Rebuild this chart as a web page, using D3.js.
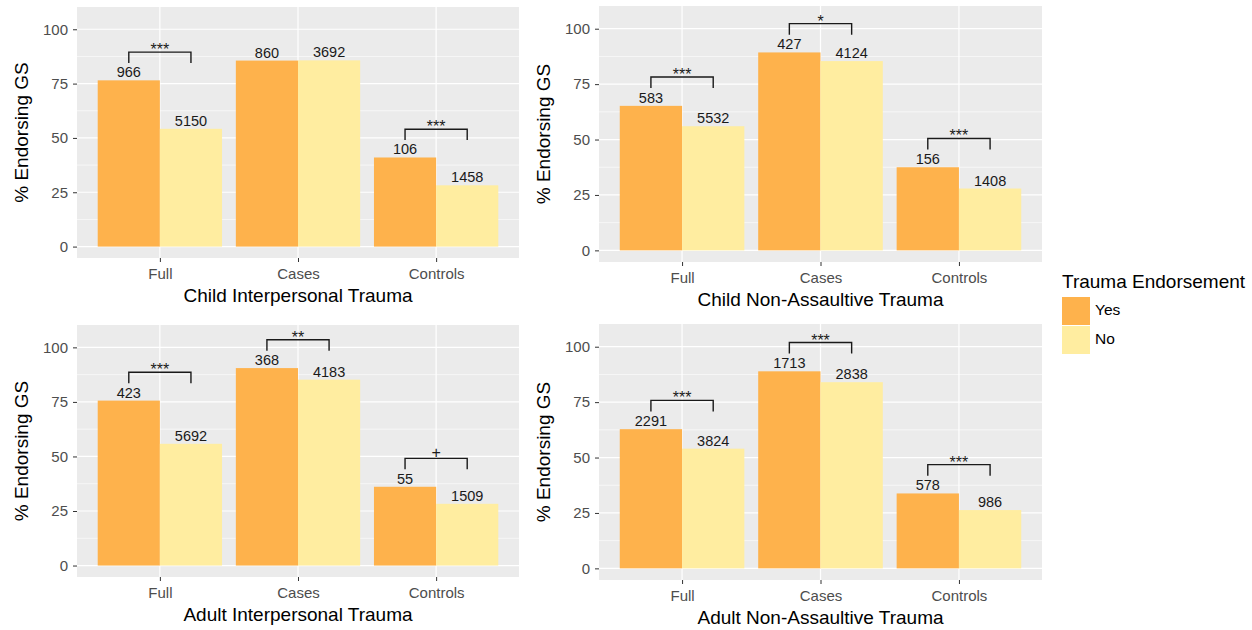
<!DOCTYPE html>
<html>
<head>
<meta charset="utf-8">
<script src="https://cdn.jsdelivr.net/npm/d3@7"></script>
<style>
	body { margin: 0; background: #fff; }
	svg { font-family: "Liberation Sans", Arial, Helvetica, sans-serif; }
	.axis .domain { display: none; }
	.axis line { stroke: #333; }
	.axis text { fill: #4d4d4d; font-size: 15px; }
</style>
</head>
<body>
<svg id="chart"></svg>
<script>
const translate = (x, y) => `translate(${x}, ${y})`;

// Chart data
const groups = ['Full', 'Cases', 'Controls'];
const endorsement = ['Yes', 'No'];
const panelTitles = [
	'Child Interpersonal Trauma',
	'Child Non-Assaultive Trauma',
	'Adult Interpersonal Trauma',
	'Adult Non-Assaultive Trauma',
];
const yesPercent = [
	[76.5, 85.6, 41.0],
	[65.2, 89.3, 37.5],
	[75.6, 90.5, 36.1],
	[62.8, 88.9, 33.8],
];
const noPercent = [
	[54.2, 85.7, 28.2],
	[56.0, 85.4, 27.9],
	[55.8, 85.2, 28.3],
	[54.0, 84.0, 26.3],
];
const yesCounts = [
	[966, 860, 106],
	[583, 427, 156],
	[423, 368, 55],
	[2291, 1713, 578],
];
const noCounts = [
	[5150, 3692, 1458],
	[5532, 4124, 1408],
	[5692, 4183, 1509],
	[3824, 2838, 986],
];
const signifLabels = [
	['***', '', '***'],
	['***', '*', '***'],
	['***', '**', '+'],
	['***', '***', '***'],
];
const yTicks = [0, 25, 50, 75, 100];
const yMinorTicks = [12.5, 37.5, 62.5, 87.5];

// Layout
const WIDTH = 1252;
const HEIGHT = 630;
const Y_DOMAIN = [-5.25, 110.25];
const PANELS = [
	{ left: 77, right: 519, top: 7, bottom: 258 },
	{ left: 599, right: 1042, top: 6, bottom: 262 },
	{ left: 77, right: 519, top: 325, bottom: 577 },
	{ left: 599, right: 1042, top: 324, bottom: 580 },
];
const COLORS = { Yes: '#FEB24C', No: '#FFEDA0' };
const PANEL_BG = '#EBEBEB';
const BRACKET_GAP = 13;
const BRACKET_DROP = 5;

const svg = d3.select('#chart')
	.attr('width', WIDTH)
	.attr('height', HEIGHT);

const color = d3.scaleOrdinal().domain(endorsement).range(endorsement.map(e => COLORS[e]));

const drawPanel = (index) => {
	const box = PANELS[index];
	const g = svg.append('g');

	const x = d3.scalePoint()
		.domain(groups)
		.range([box.left, box.right])
		.padding(0.6);
	const step = x.step();
	const xSub = d3.scaleBand()
		.domain(endorsement)
		.range([-0.45 * step, 0.45 * step]);
	const y = d3.scaleLinear()
		.domain(Y_DOMAIN)
		.range([box.bottom, box.top]);

	// background + grid
	g.append('rect')
		.attr('x', box.left)
		.attr('y', box.top)
		.attr('width', box.right - box.left)
		.attr('height', box.bottom - box.top)
		.attr('fill', PANEL_BG);

	g.selectAll('.minor')
		.data(yMinorTicks)
		.enter()
		.append('line')
		.attr('x1', box.left)
		.attr('x2', box.right)
		.attr('y1', d => y(d))
		.attr('y2', d => y(d))
		.attr('stroke', '#fff')
		.attr('stroke-width', 0.6);

	g.selectAll('.major-y')
		.data(yTicks)
		.enter()
		.append('line')
		.attr('x1', box.left)
		.attr('x2', box.right)
		.attr('y1', d => y(d))
		.attr('y2', d => y(d))
		.attr('stroke', '#fff')
		.attr('stroke-width', 1.2);

	g.selectAll('.major-x')
		.data(groups)
		.enter()
		.append('line')
		.attr('x1', d => x(d))
		.attr('x2', d => x(d))
		.attr('y1', box.top)
		.attr('y2', box.bottom)
		.attr('stroke', '#fff')
		.attr('stroke-width', 1.2);

	// bars
	const rows = groups.map((grp, i) => ({
		group: grp,
		values: [
			{ key: 'Yes', pct: yesPercent[index][i], n: yesCounts[index][i] },
			{ key: 'No', pct: noPercent[index][i], n: noCounts[index][i] },
		],
		signif: signifLabels[index][i],
	}));

	const groupNodes = g.selectAll('.grp')
		.data(rows)
		.enter()
		.append('g')
		.attr('transform', row => translate(x(row.group), 0));

	groupNodes.selectAll('rect')
		.data(row => row.values)
		.enter()
		.append('rect')
		.attr('x', d => xSub(d.key))
		.attr('width', xSub.bandwidth())
		.attr('y', d => y(d.pct))
		.attr('height', d => y(0) - y(d.pct))
		.attr('fill', d => color(d.key));

	groupNodes.selectAll('.count')
		.data(row => row.values)
		.enter()
		.append('text')
		.attr('x', d => xSub(d.key) + xSub.bandwidth() / 2)
		.attr('y', d => y(d.pct) - 3)
		.attr('text-anchor', 'middle')
		.attr('font-size', 14.5)
		.attr('fill', '#1a1a1a')
		.text(d => d.n);

	// significance brackets
	const signifNodes = groupNodes.filter(row => row.signif !== '');
	const bracketTop = row => d3.max(row.values, d => d.pct) + BRACKET_GAP;
	const yesMid = xSub('Yes') + xSub.bandwidth() / 2;
	const noMid = xSub('No') + xSub.bandwidth() / 2;

	signifNodes.append('path')
		.attr('d', row => {
			const top = y(bracketTop(row));
			const foot = y(bracketTop(row) - BRACKET_DROP);
			return `M${yesMid},${foot}V${top}H${noMid}V${foot}`;
		})
		.attr('fill', 'none')
		.attr('stroke', '#1a1a1a')
		.attr('stroke-width', 1.4);

	signifNodes.append('text')
		.attr('x', (yesMid + noMid) / 2)
		.attr('y', row => y(bracketTop(row)) + (row.signif === '+' ? 0 : 3))
		.attr('text-anchor', 'middle')
		.attr('font-size', 16)
		.attr('fill', '#1a1a1a')
		.text(row => row.signif);

	// axes
	g.append('g')
		.attr('class', 'axis')
		.attr('transform', translate(box.left, 0))
		.call(d3.axisLeft(y).tickValues(yTicks).tickSize(4).tickPadding(5));

	g.append('g')
		.attr('class', 'axis')
		.attr('transform', translate(0, box.bottom))
		.call(d3.axisBottom(x).tickSize(4).tickPadding(6));

	// axis titles
	g.append('text')
		.attr('transform', `${translate(box.left - 54, (box.top + box.bottom) / 2)} rotate(-90)`)
		.attr('text-anchor', 'middle')
		.attr('dominant-baseline', 'middle')
		.attr('font-size', 19)
		.attr('fill', '#000')
		.text('% Endorsing GS');

	g.append('text')
		.attr('x', (box.left + box.right) / 2)
		.attr('y', box.bottom + 44)
		.attr('text-anchor', 'middle')
		.attr('font-size', 19)
		.attr('fill', '#000')
		.text(panelTitles[index]);
};

const drawLegend = () => {
	const legend = svg.append('g').attr('transform', translate(1062, 0));

	legend.append('text')
		.attr('x', 0)
		.attr('y', 288)
		.attr('font-size', 19)
		.attr('fill', '#000')
		.text('Trauma Endorsement');

	const keys = legend.selectAll('.key')
		.data(endorsement)
		.enter()
		.append('g')
		.attr('transform', (d, i) => translate(0, 297 + i * 29));

	keys.append('rect')
		.attr('width', 28)
		.attr('height', 28)
		.attr('fill', d => color(d));

	keys.append('text')
		.attr('x', 33)
		.attr('y', 14)
		.attr('dominant-baseline', 'middle')
		.attr('font-size', 15.5)
		.attr('fill', '#000')
		.text(d => d);
};

PANELS.forEach((_, i) => drawPanel(i));
drawLegend();
</script>
</body>
</html>
